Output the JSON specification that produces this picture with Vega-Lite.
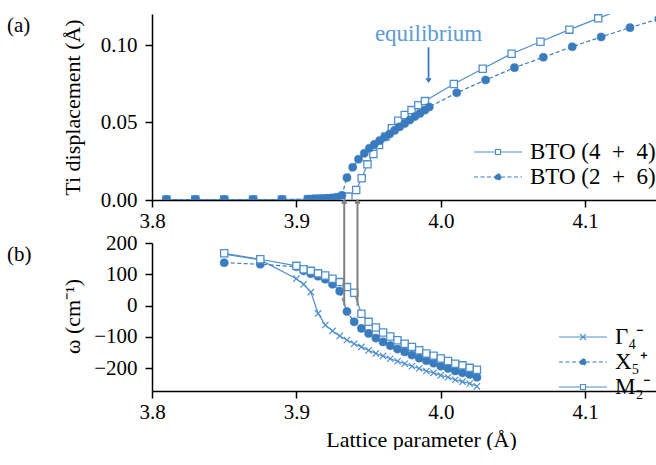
{
  "$schema": "https://vega.github.io/schema/vega-lite/v6.json",
  "background": "white",
  "padding": {"left": 7, "top": 14, "right": 0, "bottom": 0},
  "config": {
    "view": {"stroke": null},
    "font": "Liberation Serif",
    "axis": {"domainColor": "black", "domainWidth": 1.5, "tickColor": "black", "tickWidth": 1.5, "tickSize": 7, "labelFont": "Liberation Serif", "labelFontSize": 21, "labelColor": "black", "titleFont": "Liberation Serif", "titleFontSize": 22, "titleFontWeight": "normal", "titleColor": "black", "grid": false, "labelFlush": false, "labelOverlap": false},
    "axisX": {"labelPadding": 3},
    "axisY": {"labelPadding": 8},
    "legend": {"labelFont": "Liberation Serif", "labelFontSize": 23, "labelColor": "black", "labelOffset": 19, "padding": 0, "offset": 3, "symbolOpacity": 1, "symbolStrokeWidth": 1.2, "rowPadding": 0},
    "title": {"font": "Liberation Serif", "fontSize": 21, "fontWeight": "normal", "color": "black"}
  },
  "datasets": {
    "top": [
      {"a": 3.81, "d": 0.0003, "s": "BTO (4 + 4)"},
      {"a": 3.83, "d": 0.0003, "s": "BTO (4 + 4)"},
      {"a": 3.85, "d": 0.0003, "s": "BTO (4 + 4)"},
      {"a": 3.87, "d": 0.0003, "s": "BTO (4 + 4)"},
      {"a": 3.89, "d": 0.0003, "s": "BTO (4 + 4)"},
      {"a": 3.908, "d": 0.0005, "s": "BTO (4 + 4)"},
      {"a": 3.912, "d": 0.0006, "s": "BTO (4 + 4)"},
      {"a": 3.916, "d": 0.0008, "s": "BTO (4 + 4)"},
      {"a": 3.92, "d": 0.001, "s": "BTO (4 + 4)"},
      {"a": 3.924, "d": 0.0012, "s": "BTO (4 + 4)"},
      {"a": 3.928, "d": 0.0015, "s": "BTO (4 + 4)"},
      {"a": 3.932, "d": 0.0018, "s": "BTO (4 + 4)"},
      {"a": 3.936, "d": 0.0022, "s": "BTO (4 + 4)"},
      {"a": 3.9414, "d": 0.0065, "s": "BTO (4 + 4)"},
      {"a": 3.9452, "d": 0.014, "s": "BTO (4 + 4)"},
      {"a": 3.9492, "d": 0.023, "s": "BTO (4 + 4)"},
      {"a": 3.9533, "d": 0.0297, "s": "BTO (4 + 4)"},
      {"a": 3.9572, "d": 0.0355, "s": "BTO (4 + 4)"},
      {"a": 3.9617, "d": 0.041, "s": "BTO (4 + 4)"},
      {"a": 3.9661, "d": 0.0463, "s": "BTO (4 + 4)"},
      {"a": 3.9705, "d": 0.0512, "s": "BTO (4 + 4)"},
      {"a": 3.975, "d": 0.0548, "s": "BTO (4 + 4)"},
      {"a": 3.9797, "d": 0.058, "s": "BTO (4 + 4)"},
      {"a": 3.9844, "d": 0.0612, "s": "BTO (4 + 4)"},
      {"a": 3.989, "d": 0.0638, "s": "BTO (4 + 4)"},
      {"a": 4.009, "d": 0.0748, "s": "BTO (4 + 4)"},
      {"a": 4.029, "d": 0.0847, "s": "BTO (4 + 4)"},
      {"a": 4.049, "d": 0.0944, "s": "BTO (4 + 4)"},
      {"a": 4.069, "d": 0.1021, "s": "BTO (4 + 4)"},
      {"a": 4.089, "d": 0.1099, "s": "BTO (4 + 4)"},
      {"a": 4.109, "d": 0.1172, "s": "BTO (4 + 4)"},
      {"a": 4.129, "d": 0.1245, "s": "BTO (4 + 4)"},
      {"a": 3.81, "d": 0.0003, "s": "BTO (2 + 6)"},
      {"a": 3.83, "d": 0.0003, "s": "BTO (2 + 6)"},
      {"a": 3.85, "d": 0.0003, "s": "BTO (2 + 6)"},
      {"a": 3.87, "d": 0.0003, "s": "BTO (2 + 6)"},
      {"a": 3.89, "d": 0.0003, "s": "BTO (2 + 6)"},
      {"a": 3.908, "d": 0.0005, "s": "BTO (2 + 6)"},
      {"a": 3.912, "d": 0.0007, "s": "BTO (2 + 6)"},
      {"a": 3.916, "d": 0.0008, "s": "BTO (2 + 6)"},
      {"a": 3.92, "d": 0.001, "s": "BTO (2 + 6)"},
      {"a": 3.924, "d": 0.0013, "s": "BTO (2 + 6)"},
      {"a": 3.928, "d": 0.0018, "s": "BTO (2 + 6)"},
      {"a": 3.9315, "d": 0.003, "s": "BTO (2 + 6)"},
      {"a": 3.935, "d": 0.0144, "s": "BTO (2 + 6)"},
      {"a": 3.939, "d": 0.0211, "s": "BTO (2 + 6)"},
      {"a": 3.943, "d": 0.0263, "s": "BTO (2 + 6)"},
      {"a": 3.947, "d": 0.0301, "s": "BTO (2 + 6)"},
      {"a": 3.9505, "d": 0.0334, "s": "BTO (2 + 6)"},
      {"a": 3.954, "d": 0.0359, "s": "BTO (2 + 6)"},
      {"a": 3.9576, "d": 0.0383, "s": "BTO (2 + 6)"},
      {"a": 3.961, "d": 0.0405, "s": "BTO (2 + 6)"},
      {"a": 3.9645, "d": 0.0426, "s": "BTO (2 + 6)"},
      {"a": 3.968, "d": 0.0449, "s": "BTO (2 + 6)"},
      {"a": 3.9715, "d": 0.0472, "s": "BTO (2 + 6)"},
      {"a": 3.975, "d": 0.0494, "s": "BTO (2 + 6)"},
      {"a": 3.9785, "d": 0.0516, "s": "BTO (2 + 6)"},
      {"a": 3.982, "d": 0.0538, "s": "BTO (2 + 6)"},
      {"a": 3.9855, "d": 0.0558, "s": "BTO (2 + 6)"},
      {"a": 3.989, "d": 0.058, "s": "BTO (2 + 6)"},
      {"a": 3.992, "d": 0.06, "s": "BTO (2 + 6)"},
      {"a": 4.011, "d": 0.0692, "s": "BTO (2 + 6)"},
      {"a": 4.031, "d": 0.0774, "s": "BTO (2 + 6)"},
      {"a": 4.051, "d": 0.0854, "s": "BTO (2 + 6)"},
      {"a": 4.071, "d": 0.0921, "s": "BTO (2 + 6)"},
      {"a": 4.091, "d": 0.0989, "s": "BTO (2 + 6)"},
      {"a": 4.111, "d": 0.1052, "s": "BTO (2 + 6)"},
      {"a": 4.131, "d": 0.1112, "s": "BTO (2 + 6)"},
      {"a": 4.151, "d": 0.1168, "s": "BTO (2 + 6)"}
    ],
    "bottom": [
      {"a": 3.85, "w": 164, "m": "Γ₄⁻"}, {"a": 3.875, "w": 146, "m": "Γ₄⁻"}, {"a": 3.9, "w": 86, "m": "Γ₄⁻"}, {"a": 3.905, "w": 68, "m": "Γ₄⁻"}, {"a": 3.91, "w": 43, "m": "Γ₄⁻"}, {"a": 3.915, "w": -25, "m": "Γ₄⁻"}, {"a": 3.92, "w": -62, "m": "Γ₄⁻"}, {"a": 3.925, "w": -81, "m": "Γ₄⁻"}, {"a": 3.93, "w": -97, "m": "Γ₄⁻"}, {"a": 3.935, "w": -110, "m": "Γ₄⁻"}, {"a": 3.94, "w": -122, "m": "Γ₄⁻"}, {"a": 3.945, "w": -132, "m": "Γ₄⁻"}, {"a": 3.95, "w": -143, "m": "Γ₄⁻"}, {"a": 3.955, "w": -153, "m": "Γ₄⁻"}, {"a": 3.96, "w": -161, "m": "Γ₄⁻"}, {"a": 3.965, "w": -170, "m": "Γ₄⁻"}, {"a": 3.97, "w": -178, "m": "Γ₄⁻"}, {"a": 3.975, "w": -186, "m": "Γ₄⁻"}, {"a": 3.98, "w": -194, "m": "Γ₄⁻"}, {"a": 3.985, "w": -201, "m": "Γ₄⁻"}, {"a": 3.99, "w": -209, "m": "Γ₄⁻"}, {"a": 3.995, "w": -215, "m": "Γ₄⁻"}, {"a": 4.0, "w": -223, "m": "Γ₄⁻"}, {"a": 4.005, "w": -229, "m": "Γ₄⁻"}, {"a": 4.01, "w": -237, "m": "Γ₄⁻"}, {"a": 4.015, "w": -243, "m": "Γ₄⁻"}, {"a": 4.02, "w": -249, "m": "Γ₄⁻"}, {"a": 4.025, "w": -258, "m": "Γ₄⁻"},
      {"a": 3.85, "w": 137, "m": "X₅⁺"}, {"a": 3.875, "w": 132, "m": "X₅⁺"}, {"a": 3.9, "w": 124, "m": "X₅⁺"}, {"a": 3.905, "w": 111, "m": "X₅⁺"}, {"a": 3.91, "w": 102, "m": "X₅⁺"}, {"a": 3.915, "w": 94, "m": "X₅⁺"}, {"a": 3.92, "w": 84, "m": "X₅⁺"}, {"a": 3.925, "w": 68, "m": "X₅⁺"}, {"a": 3.93, "w": 46, "m": "X₅⁺"}, {"a": 3.935, "w": -19, "m": "X₅⁺"}, {"a": 3.94, "w": -52, "m": "X₅⁺"}, {"a": 3.945, "w": -73, "m": "X₅⁺"}, {"a": 3.95, "w": -89, "m": "X₅⁺"}, {"a": 3.955, "w": -104, "m": "X₅⁺"}, {"a": 3.96, "w": -116, "m": "X₅⁺"}, {"a": 3.965, "w": -128, "m": "X₅⁺"}, {"a": 3.97, "w": -139, "m": "X₅⁺"}, {"a": 3.975, "w": -148, "m": "X₅⁺"}, {"a": 3.98, "w": -158, "m": "X₅⁺"}, {"a": 3.985, "w": -168, "m": "X₅⁺"}, {"a": 3.99, "w": -176, "m": "X₅⁺"}, {"a": 3.995, "w": -184, "m": "X₅⁺"}, {"a": 4.0, "w": -194, "m": "X₅⁺"}, {"a": 4.005, "w": -201, "m": "X₅⁺"}, {"a": 4.01, "w": -209, "m": "X₅⁺"}, {"a": 4.015, "w": -215, "m": "X₅⁺"}, {"a": 4.02, "w": -220, "m": "X₅⁺"}, {"a": 4.025, "w": -229, "m": "X₅⁺"},
      {"a": 3.85, "w": 167, "m": "M₂⁻"}, {"a": 3.875, "w": 148, "m": "M₂⁻"}, {"a": 3.9, "w": 127, "m": "M₂⁻"}, {"a": 3.905, "w": 116, "m": "M₂⁻"}, {"a": 3.91, "w": 111, "m": "M₂⁻"}, {"a": 3.915, "w": 103, "m": "M₂⁻"}, {"a": 3.92, "w": 96, "m": "M₂⁻"}, {"a": 3.925, "w": 86, "m": "M₂⁻"}, {"a": 3.93, "w": 75, "m": "M₂⁻"}, {"a": 3.935, "w": 59, "m": "M₂⁻"}, {"a": 3.94, "w": 41, "m": "M₂⁻"}, {"a": 3.945, "w": -26, "m": "M₂⁻"}, {"a": 3.95, "w": -52, "m": "M₂⁻"}, {"a": 3.955, "w": -70, "m": "M₂⁻"}, {"a": 3.96, "w": -86, "m": "M₂⁻"}, {"a": 3.965, "w": -99, "m": "M₂⁻"}, {"a": 3.97, "w": -111, "m": "M₂⁻"}, {"a": 3.975, "w": -122, "m": "M₂⁻"}, {"a": 3.98, "w": -132, "m": "M₂⁻"}, {"a": 3.985, "w": -143, "m": "M₂⁻"}, {"a": 3.99, "w": -153, "m": "M₂⁻"}, {"a": 3.995, "w": -160, "m": "M₂⁻"}, {"a": 4.0, "w": -169, "m": "M₂⁻"}, {"a": 4.005, "w": -177, "m": "M₂⁻"}, {"a": 4.01, "w": -186, "m": "M₂⁻"}, {"a": 4.015, "w": -191, "m": "M₂⁻"}, {"a": 4.02, "w": -199, "m": "M₂⁻"}, {"a": 4.025, "w": -205, "m": "M₂⁻"}
    ],
    "arrows": [
      {"a": 3.9331, "w": 0, "w2": 336},
      {"a": 3.9423, "w": 0, "w2": 336}
    ],
    "eq": [
      {"a": 3.9915, "t": 0.107, "y1": 0.0985, "y2": 0.0765, "label": "equilibrium"}
    ]
  },
  "vconcat": [
    {
      "width": 504,
      "height": 186,
      "title": {"text": "(a)", "anchor": "start", "frame": "group", "orient": "top", "offset": -20, "dx": -145, "dy": 13, "baseline": "middle"},
      "layer": [
        {
          "mark": {"type": "rule", "color": "black", "strokeWidth": 1.5},
          "encoding": {
            "y": {"datum": 0.12, "type": "quantitative", "scale": {"domain": [0, 0.12], "nice": false, "zero": false}}
          }
        },
        {
          "data": {"name": "top"},
          "transform": [{"filter": "datum.s === 'BTO (4 + 4)'"}],
          "mark": {"type": "line", "clip": true, "color": "#4f8fcd", "strokeWidth": 1.2},
          "encoding": {
            "x": {"field": "a", "type": "quantitative", "scale": {"domain": [3.8, 4.149], "nice": false, "zero": false}, "axis": {"values": [3.8, 3.9, 4.0, 4.1], "format": ".1f", "title": null, "grid": false, "labelOverlap": false}},
            "y": {"field": "d", "type": "quantitative", "scale": {"domain": [0, 0.12], "nice": false, "zero": false}, "axis": {"values": [0, 0.05, 0.1], "format": ".2f", "title": "Ti displacement (Å)", "titleX": -80, "titleY": 93, "titleAlign": "center", "titleBaseline": "middle", "titleAngle": 270, "grid": false, "labelOverlap": false}}
          }
        },
        {
          "data": {"name": "top"},
          "transform": [{"filter": "datum.s === 'BTO (2 + 6)'"}],
          "mark": {"type": "line", "clip": true, "color": "#3a7bbd", "strokeWidth": 1.2, "strokeDash": [4, 2.5]},
          "encoding": {
            "x": {"field": "a", "type": "quantitative", "scale": {"domain": [3.8, 4.149], "nice": false, "zero": false}},
            "y": {"field": "d", "type": "quantitative", "scale": {"domain": [0, 0.12], "nice": false, "zero": false}}
          }
        },
        {
          "data": {"name": "top"},
          "transform": [{"filter": "datum.s === 'BTO (4 + 4)'"}],
          "mark": {"type": "point", "shape": "square", "filled": true, "fill": "white", "stroke": "#4f8fcd", "strokeWidth": 1.3, "size": 52, "opacity": 1, "clip": true},
          "encoding": {
            "x": {"field": "a", "type": "quantitative", "scale": {"domain": [3.8, 4.149], "nice": false, "zero": false}},
            "y": {"field": "d", "type": "quantitative", "scale": {"domain": [0, 0.12], "nice": false, "zero": false}}
          }
        },
        {
          "data": {"name": "top"},
          "transform": [{"filter": "datum.s === 'BTO (2 + 6)'"}],
          "mark": {"type": "point", "shape": "circle", "filled": true, "fill": "#3a7bbd", "stroke": "#3a7bbd", "strokeWidth": 0.5, "size": 66, "opacity": 1, "clip": true},
          "encoding": {
            "x": {"field": "a", "type": "quantitative", "scale": {"domain": [3.8, 4.149], "nice": false, "zero": false}},
            "y": {"field": "d", "type": "quantitative", "scale": {"domain": [0, 0.12], "nice": false, "zero": false}}
          }
        },
        {
          "data": {"name": "top"},
          "mark": {"type": "point", "filled": true, "opacity": 0, "clip": true, "strokeWidth": 1.2},
          "encoding": {
            "x": {"field": "a", "type": "quantitative", "scale": {"domain": [3.8, 4.149], "nice": false, "zero": false}},
            "y": {"field": "d", "type": "quantitative", "scale": {"domain": [0, 0.12], "nice": false, "zero": false}},
            "shape": {"field": "s", "type": "nominal", "scale": {"domain": ["BTO (4 + 4)", "BTO (2 + 6)"], "range": ["M -2 0 L -0.21 0 M 0.21 0 L 2 0 M -0.21 -0.21 L 0.21 -0.21 L 0.21 0.21 L -0.21 0.21 Z", "M -2 0 L -0.25 0 M 0.25 0 L 2 0 M 0.25 0 L 0.2165 0.125 L 0.125 0.2165 L 0 0.25 L -0.125 0.2165 L -0.2165 0.125 L -0.25 0 L -0.2165 -0.125 L -0.125 -0.2165 L 0 -0.25 L 0.125 -0.2165 L 0.2165 -0.125 Z"]}, "legend": {"title": null, "orient": "none", "legendX": 333, "legendY": 125, "symbolSize": 576, "symbolOpacity": 1, "labelExpr": "replace(datum.label, ' + ', '\u2002+\u2002')"}},
            "fill": {"field": "s", "type": "nominal", "scale": {"domain": ["BTO (4 + 4)", "BTO (2 + 6)"], "range": ["white", "#3a7bbd"]}, "legend": {"title": null, "orient": "none", "legendX": 333, "legendY": 125, "symbolSize": 576, "symbolOpacity": 1, "labelExpr": "replace(datum.label, ' + ', '\u2002+\u2002')"}},
            "stroke": {"field": "s", "type": "nominal", "scale": {"domain": ["BTO (4 + 4)", "BTO (2 + 6)"], "range": ["#4f8fcd", "#3a7bbd"]}, "legend": {"title": null, "orient": "none", "legendX": 333, "legendY": 125, "symbolSize": 576, "symbolOpacity": 1, "labelExpr": "replace(datum.label, ' + ', '\u2002+\u2002')"}},
            "strokeDash": {"field": "s", "type": "nominal", "scale": {"domain": ["BTO (4 + 4)", "BTO (2 + 6)"], "range": [[1, 0], [4, 2.5]]}, "legend": {"title": null, "orient": "none", "legendX": 333, "legendY": 125, "symbolSize": 576, "symbolOpacity": 1, "labelExpr": "replace(datum.label, ' + ', '\u2002+\u2002')"}}
          }
        },
        {
          "data": {"name": "eq"},
          "mark": {"type": "text", "font": "Liberation Serif", "fontSize": 23, "color": "#5b9bd5", "align": "center", "baseline": "middle"},
          "encoding": {
            "x": {"field": "a", "type": "quantitative", "scale": {"domain": [3.8, 4.149], "nice": false, "zero": false}},
            "y": {"field": "t", "type": "quantitative", "scale": {"domain": [0, 0.12], "nice": false, "zero": false}},
            "text": {"field": "label"}
          }
        },
        {
          "data": {"name": "eq"},
          "mark": {"type": "rule", "color": "#3a7bbd", "strokeWidth": 1.8},
          "encoding": {
            "x": {"field": "a", "type": "quantitative", "scale": {"domain": [3.8, 4.149], "nice": false, "zero": false}},
            "y": {"field": "y1", "type": "quantitative", "scale": {"domain": [0, 0.12], "nice": false, "zero": false}},
            "y2": {"field": "y2"}
          }
        },
        {
          "data": {"name": "eq"},
          "mark": {"type": "point", "shape": "M -1 -1.4 L 0 0 L 1 -1.4", "filled": false, "stroke": "#3a7bbd", "strokeWidth": 1.8, "size": 20, "opacity": 1},
          "encoding": {
            "x": {"field": "a", "type": "quantitative", "scale": {"domain": [3.8, 4.149], "nice": false, "zero": false}},
            "y": {"field": "y2", "type": "quantitative", "scale": {"domain": [0, 0.12], "nice": false, "zero": false}}
          }
        }
      ]
    },
    {
      "width": 504,
      "height": 148,
      "title": {"text": "(b)", "anchor": "start", "frame": "group", "orient": "top", "offset": -68, "dx": -145, "dy": 12, "baseline": "middle"},
      "layer": [
        {
          "data": {"name": "bottom"},
          "transform": [{"filter": "datum.m === 'Γ₄⁻'"}],
          "mark": {"type": "line", "color": "#4f8fcd", "strokeWidth": 1.2},
          "encoding": {
            "x": {"field": "a", "type": "quantitative", "scale": {"domain": [3.8, 4.149], "nice": false, "zero": false}, "axis": {"values": [3.8, 3.9, 4.0, 4.1], "format": ".1f", "title": "Lattice parameter (Å)", "titleX": 269, "titleY": 48, "titleBaseline": "middle", "titleAlign": "center", "grid": false, "labelOverlap": false}},
            "y": {"field": "w", "type": "quantitative", "scale": {"domain": [-273, 200], "nice": false, "zero": false}, "axis": {"values": [-200, -100, 0, 100, 200], "format": "d", "title": "ω (cm⁻¹)", "titleX": -80, "titleY": 73, "titleAlign": "center", "titleBaseline": "middle", "titleAngle": 270, "grid": false, "labelOverlap": false, "labelSeparation": 0, "tickCount": 5}}
          }
        },
        {
          "data": {"name": "bottom"},
          "transform": [{"filter": "datum.m === 'X₅⁺'"}],
          "mark": {"type": "line", "color": "#3a7bbd", "strokeWidth": 1.2, "strokeDash": [4, 2.5]},
          "encoding": {
            "x": {"field": "a", "type": "quantitative", "scale": {"domain": [3.8, 4.149], "nice": false, "zero": false}},
            "y": {"field": "w", "type": "quantitative", "scale": {"domain": [-273, 200], "nice": false, "zero": false}, "axis": {"values": [-200, -100, 0, 100, 200], "format": "d", "title": "ω (cm⁻¹)", "titleX": -80, "titleY": 73, "titleAlign": "center", "titleBaseline": "middle", "titleAngle": 270, "grid": false, "labelOverlap": false, "labelSeparation": 0, "tickCount": 5}}
          }
        },
        {
          "data": {"name": "bottom"},
          "transform": [{"filter": "datum.m === 'M₂⁻'"}],
          "mark": {"type": "line", "color": "#4f8fcd", "strokeWidth": 1.2},
          "encoding": {
            "x": {"field": "a", "type": "quantitative", "scale": {"domain": [3.8, 4.149], "nice": false, "zero": false}},
            "y": {"field": "w", "type": "quantitative", "scale": {"domain": [-273, 200], "nice": false, "zero": false}, "axis": {"values": [-200, -100, 0, 100, 200], "format": "d", "title": "ω (cm⁻¹)", "titleX": -80, "titleY": 73, "titleAlign": "center", "titleBaseline": "middle", "titleAngle": 270, "grid": false, "labelOverlap": false, "labelSeparation": 0, "tickCount": 5}}
          }
        },
        {
          "data": {"name": "bottom"},
          "transform": [{"filter": "datum.m === 'Γ₄⁻'"}],
          "mark": {"type": "point", "shape": "M -1 -1 L 1 1 M -1 1 L 1 -1", "filled": false, "stroke": "#4f8fcd", "strokeWidth": 1.2, "size": 40, "opacity": 1},
          "encoding": {
            "x": {"field": "a", "type": "quantitative", "scale": {"domain": [3.8, 4.149], "nice": false, "zero": false}},
            "y": {"field": "w", "type": "quantitative", "scale": {"domain": [-273, 200], "nice": false, "zero": false}, "axis": {"values": [-200, -100, 0, 100, 200], "format": "d", "title": "ω (cm⁻¹)", "titleX": -80, "titleY": 73, "titleAlign": "center", "titleBaseline": "middle", "titleAngle": 270, "grid": false, "labelOverlap": false, "labelSeparation": 0, "tickCount": 5}}
          }
        },
        {
          "data": {"name": "bottom"},
          "transform": [{"filter": "datum.m === 'X₅⁺'"}],
          "mark": {"type": "point", "shape": "circle", "filled": true, "fill": "#3a7bbd", "stroke": "#3a7bbd", "strokeWidth": 0.5, "size": 66, "opacity": 1},
          "encoding": {
            "x": {"field": "a", "type": "quantitative", "scale": {"domain": [3.8, 4.149], "nice": false, "zero": false}},
            "y": {"field": "w", "type": "quantitative", "scale": {"domain": [-273, 200], "nice": false, "zero": false}, "axis": {"values": [-200, -100, 0, 100, 200], "format": "d", "title": "ω (cm⁻¹)", "titleX": -80, "titleY": 73, "titleAlign": "center", "titleBaseline": "middle", "titleAngle": 270, "grid": false, "labelOverlap": false, "labelSeparation": 0, "tickCount": 5}}
          }
        },
        {
          "data": {"name": "bottom"},
          "transform": [{"filter": "datum.m === 'M₂⁻'"}],
          "mark": {"type": "point", "shape": "square", "filled": true, "fill": "white", "stroke": "#4f8fcd", "strokeWidth": 1.3, "size": 52, "opacity": 1},
          "encoding": {
            "x": {"field": "a", "type": "quantitative", "scale": {"domain": [3.8, 4.149], "nice": false, "zero": false}},
            "y": {"field": "w", "type": "quantitative", "scale": {"domain": [-273, 200], "nice": false, "zero": false}, "axis": {"values": [-200, -100, 0, 100, 200], "format": "d", "title": "ω (cm⁻¹)", "titleX": -80, "titleY": 73, "titleAlign": "center", "titleBaseline": "middle", "titleAngle": 270, "grid": false, "labelOverlap": false, "labelSeparation": 0, "tickCount": 5}}
          }
        },
        {
          "data": {"name": "bottom"},
          "mark": {"type": "point", "filled": true, "opacity": 0, "strokeWidth": 1.2},
          "encoding": {
            "x": {"field": "a", "type": "quantitative", "scale": {"domain": [3.8, 4.149], "nice": false, "zero": false}},
            "y": {"field": "w", "type": "quantitative", "scale": {"domain": [-273, 200], "nice": false, "zero": false}, "axis": {"values": [-200, -100, 0, 100, 200], "format": "d", "title": "ω (cm⁻¹)", "titleX": -80, "titleY": 73, "titleAlign": "center", "titleBaseline": "middle", "titleAngle": 270, "grid": false, "labelOverlap": false, "labelSeparation": 0, "tickCount": 5}},
            "shape": {"field": "m", "type": "nominal", "scale": {"domain": ["Γ₄⁻", "X₅⁺", "M₂⁻"], "range": ["M -2 0 L 2 0 M -0.25 -0.25 L 0.25 0.25 M -0.25 0.25 L 0.25 -0.25", "M -2 0 L -0.25 0 M 0.25 0 L 2 0 M 0.25 0 L 0.2165 0.125 L 0.125 0.2165 L 0 0.25 L -0.125 0.2165 L -0.2165 0.125 L -0.25 0 L -0.2165 -0.125 L -0.125 -0.2165 L 0 -0.25 L 0.125 -0.2165 L 0.2165 -0.125 Z", "M -2 0 L -0.21 0 M 0.21 0 L 2 0 M -0.21 -0.21 L 0.21 -0.21 L 0.21 0.21 L -0.21 0.21 Z"]}, "legend": {"title": null, "orient": "none", "legendX": 418, "legendY": 81, "rowPadding": -2, "symbolSize": 576, "symbolOpacity": 1}},
            "fill": {"field": "m", "type": "nominal", "scale": {"domain": ["Γ₄⁻", "X₅⁺", "M₂⁻"], "range": ["none", "#3a7bbd", "white"]}, "legend": {"title": null, "orient": "none", "legendX": 418, "legendY": 81, "rowPadding": -2, "symbolSize": 576, "symbolOpacity": 1}},
            "stroke": {"field": "m", "type": "nominal", "scale": {"domain": ["Γ₄⁻", "X₅⁺", "M₂⁻"], "range": ["#4f8fcd", "#3a7bbd", "#4f8fcd"]}, "legend": {"title": null, "orient": "none", "legendX": 418, "legendY": 81, "rowPadding": -2, "symbolSize": 576, "symbolOpacity": 1}},
            "strokeDash": {"field": "m", "type": "nominal", "scale": {"domain": ["Γ₄⁻", "X₅⁺", "M₂⁻"], "range": [[1, 0], [4, 2.5], [1, 0]]}, "legend": {"title": null, "orient": "none", "legendX": 418, "legendY": 81, "rowPadding": -2, "symbolSize": 576, "symbolOpacity": 1}}
          }
        },
        {
          "mark": {"type": "rule", "color": "#808080", "strokeWidth": 1},
          "encoding": {
            "y": {"datum": 0, "type": "quantitative", "scale": {"domain": [-273, 200], "nice": false, "zero": false}, "axis": {"values": [-200, -100, 0, 100, 200], "format": "d", "title": "ω (cm⁻¹)", "titleX": -80, "titleY": 73, "titleAlign": "center", "titleBaseline": "middle", "titleAngle": 270, "grid": false, "labelOverlap": false, "labelSeparation": 0, "tickCount": 5}}
          }
        },
        {
          "mark": {"type": "rule", "color": "black", "strokeWidth": 1.5},
          "encoding": {
            "y": {"datum": 200, "type": "quantitative", "scale": {"domain": [-273, 200], "nice": false, "zero": false}, "axis": {"values": [-200, -100, 0, 100, 200], "format": "d", "title": "ω (cm⁻¹)", "titleX": -80, "titleY": 73, "titleAlign": "center", "titleBaseline": "middle", "titleAngle": 270, "grid": false, "labelOverlap": false, "labelSeparation": 0, "tickCount": 5}}
          }
        },
        {
          "data": {"name": "arrows"},
          "mark": {"type": "rule", "color": "#808080", "strokeWidth": 2},
          "encoding": {
            "x": {"field": "a", "type": "quantitative", "scale": {"domain": [3.8, 4.149], "nice": false, "zero": false}},
            "y": {"field": "w", "type": "quantitative", "scale": {"domain": [-273, 200], "nice": false, "zero": false}, "axis": {"values": [-200, -100, 0, 100, 200], "format": "d", "title": "ω (cm⁻¹)", "titleX": -80, "titleY": 73, "titleAlign": "center", "titleBaseline": "middle", "titleAngle": 270, "grid": false, "labelOverlap": false, "labelSeparation": 0, "tickCount": 5}},
            "y2": {"field": "w2"}
          }
        },
        {
          "data": {"name": "arrows"},
          "mark": {"type": "point", "shape": "M -1 1.4 L 0 0 L 1 1.4", "filled": false, "stroke": "#808080", "strokeWidth": 2, "size": 20, "opacity": 1},
          "encoding": {
            "x": {"field": "a", "type": "quantitative", "scale": {"domain": [3.8, 4.149], "nice": false, "zero": false}},
            "y": {"field": "w2", "type": "quantitative", "scale": {"domain": [-273, 200], "nice": false, "zero": false}, "axis": {"values": [-200, -100, 0, 100, 200], "format": "d", "title": "ω (cm⁻¹)", "titleX": -80, "titleY": 73, "titleAlign": "center", "titleBaseline": "middle", "titleAngle": 270, "grid": false, "labelOverlap": false, "labelSeparation": 0, "tickCount": 5}}
          }
        }
      ]
    }
  ],
  "resolve": {
    "scale": {"shape": "independent", "fill": "independent", "stroke": "independent", "strokeDash": "independent"},
    "legend": {"shape": "independent", "fill": "independent", "stroke": "independent", "strokeDash": "independent"}
  },
  "spacing": 43,
  "bounds": "flush"
}
